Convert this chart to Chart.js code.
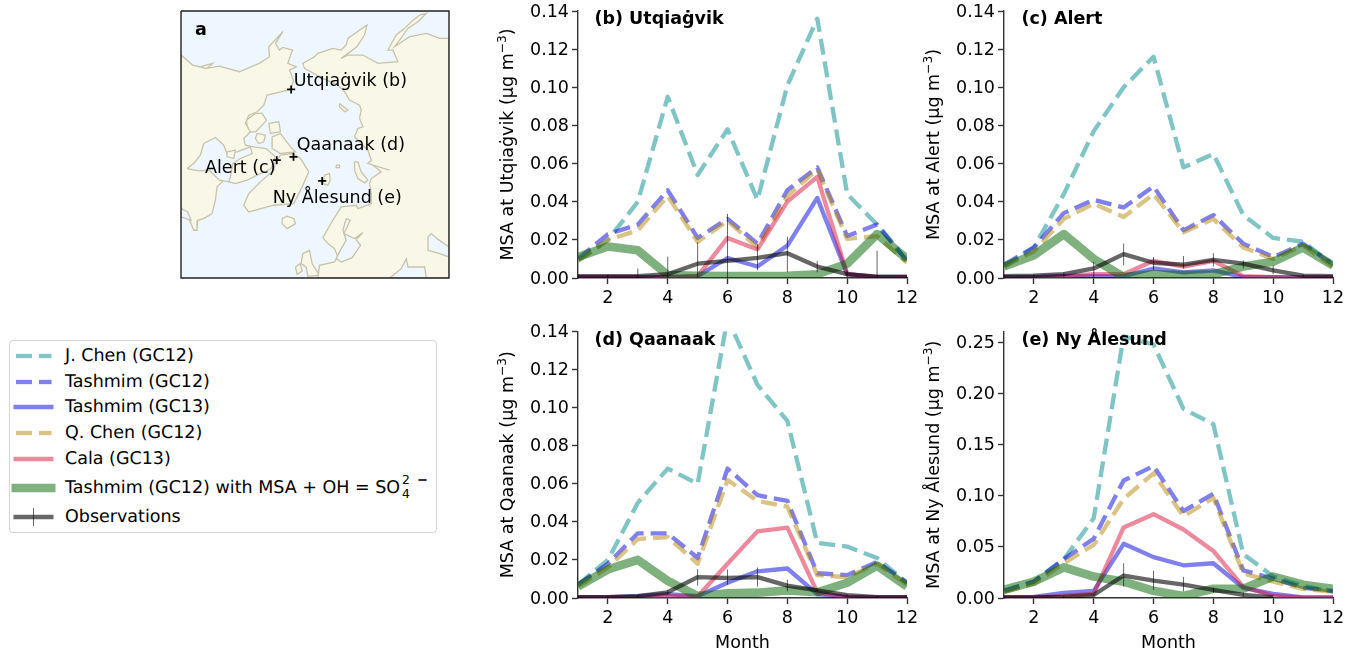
<!DOCTYPE html>
<html lang="en">
<head>
<meta charset="UTF-8">
<title>MSA at Arctic sites</title>
<script src="https://cdn.jsdelivr.net/npm/chart.js"></script>
<style>
  html, body { margin: 0; padding: 0; background: #fff; overflow: hidden; }
  body { width: 1346px; height: 650px; position: relative; font-family: "DejaVu Sans", sans-serif; color: #000; }
  canvas { position: absolute; display: block; }
  #legend { position: absolute; left: 9px; top: 340px; width: 426px; height: 191px; border: 1.4px solid #d4d4d4; border-radius: 4px; background: #fff; }
  .row { position: absolute; left: 0; height: 24px; line-height: 24px; font-size: 17.5px; white-space: nowrap; text-rendering: geometricPrecision; }
  .row svg { position: absolute; left: 0; top: 0; }
  .row span.t { position: absolute; left: 55px; top: 0; }
  .stack { position: relative; display: inline-block; width: 12px; height: 0; font-size: 12.3px; }
  .stack i { position: absolute; left: 2px; font-style: normal; line-height: 12px; }
</style>
</head>
<body>
<canvas id="mapChart" width="290" height="290" style="left:170px;top:0"></canvas>
<canvas id="chartB" width="430" height="320" style="left:490px;top:0"></canvas>
<canvas id="chartC" width="430" height="320" style="left:916px;top:0"></canvas>
<canvas id="chartD" width="430" height="330" style="left:490px;top:320px"></canvas>
<canvas id="chartE" width="430" height="330" style="left:916px;top:320px"></canvas>
<div id="legend"></div>
<script>
const months = [1, 2, 3, 4, 5, 6, 7, 8, 9, 10, 11, 12];
const monthTicks = [2, 4, 6, 8, 10, 12];
const tickLabels = ['0.00', '0.02', '0.04', '0.06', '0.08', '0.10', '0.12', '0.14'];
const tickLabelsE = ['0.00', '0.05', '0.10', '0.15', '0.20', '0.25'];

// (b) Utqiagvik
const jChenB = [0.009, 0.020, 0.040, 0.095, 0.054, 0.078, 0.041, 0.101, 0.136, 0.044, 0.028, 0.009];
const tash12B = [0.010, 0.023, 0.028, 0.046, 0.021, 0.031, 0.018, 0.046, 0.058, 0.022, 0.028, 0.009];
const tash13B = [0.0005, 0.0005, 0.0005, 0.0005, 0.001, 0.0105, 0.006, 0.017, 0.042, 0.002, 0.0005, 0.0005];
const qChenB = [0.009, 0.020, 0.025, 0.043, 0.019, 0.030, 0.016, 0.043, 0.057, 0.0205, 0.022, 0.008];
const calaB = [0.0005, 0.0005, 0.0005, 0.0005, 0.001, 0.021, 0.015, 0.040, 0.053, 0.002, 0.0005, 0.0005];
const oxB = [0.011, 0.0165, 0.0145, 0.0015, 0.0012, 0.001, 0.001, 0.0012, 0.002, 0.0075, 0.023, 0.010];
const obsB = [0.001, 0.001, 0.001, 0.002, 0.0075, 0.009, 0.0105, 0.013, 0.006, 0.002, 0.0007, 0.0007];
const obsLoB = [0, 0, 0, 0, 0, 0, 0.004, 0.003, 0.003, 0, 0, 0];
const obsHiB = [0.002, 0.002, 0.005, 0.0112, 0.0187, 0.0336, 0.018, 0.0217, 0.009, 0.004, 0.0143, 0.001];

// (c) Alert
const jChenC = [0.006, 0.016, 0.044, 0.077, 0.100, 0.116, 0.058, 0.065, 0.033, 0.021, 0.019, 0.007];
const tash12C = [0.007, 0.016, 0.034, 0.041, 0.037, 0.048, 0.025, 0.033, 0.018, 0.011, 0.018, 0.007];
const tash13C = [0.0005, 0.0005, 0.001, 0.001, 0.001, 0.005, 0.003, 0.004, 0.0005, 0.0005, 0.0003, 0.0003];
const qChenC = [0.006, 0.014, 0.031, 0.039, 0.032, 0.044, 0.024, 0.031, 0.016, 0.010, 0.017, 0.006];
const calaC = [0.0005, 0.0005, 0.001, 0.002, 0.002, 0.009, 0.006, 0.009, 0.001, 0.0005, 0.0003, 0.0003];
const oxC = [0.006, 0.012, 0.023, 0.010, 0.0005, 0.002, 0.0015, 0.002, 0.006, 0.0085, 0.016, 0.0065];
const obsC = [0.001, 0.0012, 0.002, 0.005, 0.0125, 0.008, 0.007, 0.0095, 0.0075, 0.004, 0.0012, 0.001];
const obsLoC = [0.0005, 0, 0.0005, 0, 0.0066, 0.004, 0.005, 0.006, 0.005, 0.002, 0.0005, 0.0005];
const obsHiC = [0.0015, 0.002, 0.003, 0.0085, 0.018, 0.011, 0.0115, 0.013, 0.0092, 0.0065, 0.002, 0.0012];

// (d) Qaanaak
const jChenD = [0.007, 0.020, 0.050, 0.068, 0.060, 0.147, 0.112, 0.093, 0.029, 0.027, 0.021, 0.008];
const tash12D = [0.007, 0.018, 0.034, 0.034, 0.021, 0.068, 0.054, 0.051, 0.013, 0.012, 0.019, 0.008];
const tash13D = [0.0003, 0.0004, 0.001, 0.002, 0.001, 0.008, 0.014, 0.0155, 0.002, 0.0005, 0.0003, 0.0003];
const qChenD = [0.006, 0.016, 0.031, 0.032, 0.018, 0.062, 0.051, 0.048, 0.012, 0.011, 0.018, 0.007];
const calaD = [0.0003, 0.0003, 0.0005, 0.001, 0.0008, 0.018, 0.035, 0.037, 0.003, 0.0005, 0.0002, 0.0002];
const oxD = [0.006, 0.015, 0.020, 0.009, 0.001, 0.0025, 0.0028, 0.004, 0.003, 0.008, 0.017, 0.006];
const obsD = [0.0005, 0.0005, 0.001, 0.003, 0.011, 0.0105, 0.011, 0.0065, 0.004, 0.0015, 0.0005, 0.0004];
const obsLoD = [0, 0, 0, 0.002, 0.0065, 0.007, 0.006, 0.0035, 0.0035, 0.001, 0, 0];
const obsHiD = [0.001, 0.001, 0.0015, 0.004, 0.0152, 0.015, 0.016, 0.0096, 0.0045, 0.002, 0.001, 0.001];

// (e) Ny Alesund
const jChenE = [0.007, 0.016, 0.038, 0.078, 0.256, 0.248, 0.185, 0.170, 0.043, 0.021, 0.012, 0.006];
const tash12E = [0.007, 0.016, 0.038, 0.058, 0.115, 0.129, 0.085, 0.102, 0.027, 0.019, 0.010, 0.007];
const tash13E = [0.0005, 0.001, 0.005, 0.007, 0.053, 0.040, 0.032, 0.034, 0.010, 0.004, 0.0005, 0.0005];
const qChenE = [0.006, 0.014, 0.034, 0.052, 0.097, 0.122, 0.080, 0.098, 0.024, 0.016, 0.009, 0.006];
const calaE = [0.0005, 0.0005, 0.002, 0.004, 0.069, 0.082, 0.067, 0.046, 0.011, 0.002, 0.0003, 0.0003];
const oxE = [0.008, 0.016, 0.030, 0.021, 0.016, 0.007, 0.002, 0.009, 0.009, 0.021, 0.013, 0.009];
const obsE = [0.0005, 0.0005, 0.001, 0.003, 0.022, 0.017, 0.013, 0.008, 0.003, 0.0005, null, null];
const obsLoE = [0, 0, 0, 0.002, 0.011, 0.008, 0.0065, 0.005, 0.0016, 0, null, null];
const obsHiE = [0.001, 0.001, 0.002, 0.004, 0.034, 0.0266, 0.0205, 0.010, 0.005, 0.001, null, null];

const seriesNames = ['J. Chen (GC12)', 'Tashmim (GC12)', 'Tashmim (GC13)', 'Q. Chen (GC12)', 'Cala (GC13)', 'Tashmim (GC12) with MSA + OH = SO', 'Observations'];
const seriesColors = ['rgba(0,139,139,0.5)', 'rgba(0,0,221,0.5)', 'rgba(0,0,221,0.5)', 'rgba(184,134,11,0.5)', 'rgba(220,20,60,0.5)', 'rgba(0,100,0,0.5)', 'rgba(0,0,0,0.6)'];
const seriesWidths = [4.3, 4.3, 4.3, 4.3, 4.3, 8.6, 4.3];
const seriesDashed = [true, true, false, true, false, false, false];

// coastlines, traced in map units
const northAmerica = [[35,165],[70,195],[110,205],[150,198],[210,215],[270,190],[300,170],[298,140],[340,95],[318,130],[330,150],[340,142],[370,150],[365,160],[355,190],[380,200],[360,210],[372,240],[365,268],[293,285],[283,315],[263,335],[238,345],[228,370],[243,395],[223,415],[228,435],[253,440],[290,445],[318,470],[305,505],[263,525],[233,540],[198,550],[180,545],[168,535],[143,560],[138,600],[128,640],[103,655],[85,660],[83,690],[73,690],[63,665],[58,655],[35,620]];
const hudsonBay = [[53,505],[73,490],[93,465],[103,430],[138,412],[163,435],[173,460],[203,455],[243,440],[248,460],[213,475],[190,490],[183,530],[178,545],[150,540],[120,510],[90,512]];
const leftBay = [[35,625],[55,635],[65,660],[35,650]];
const bayIsland = [[173,455],[198,450],[193,475],[173,470]];
const aleutIsland = [[75,205],[130,190],[110,208]];
const greenland = [[318,485],[333,465],[368,460],[393,475],[418,515],[398,560],[373,610],[313,615],[238,635],[223,615],[238,580],[273,545],[313,510]];
const banksIsland = [[231,360],[258,340],[278,340],[291,360],[278,375],[258,395],[238,395],[233,375]];
const melvilleIsland = [[298,370],[328,365],[333,395],[303,400]];
const ellesmereIsland = [[308,410],[333,400],[363,440],[378,455],[333,460],[308,445]];
const victoriaIsland = [[263,400],[288,405],[283,425],[268,430],[258,415]];
const eurasia = [[838,115],[810,115],[770,100],[720,110],[675,140],[690,120],[715,85],[745,65],[770,40],[750,45],[725,65],[705,85],[680,105],[655,150],[670,150],[685,185],[625,190],[580,165],[535,165],[515,175],[562,140],[585,105],[592,75],[535,115],[530,135],[515,150],[490,145],[445,160],[435,170],[400,190],[405,205],[460,235],[505,255],[525,275],[540,300],[570,315],[575,330],[570,355],[580,380],[565,385],[555,410],[575,430],[595,450],[605,480],[595,490],[660,510],[610,495],[635,515],[605,535],[600,550],[605,580],[605,610],[565,625],[560,615],[515,620],[490,660],[460,712],[475,730],[495,745],[505,770],[495,785],[450,795],[445,833],[838,833]];
const baltic = [[530,655],[542,660],[523,700],[555,715],[580,697],[560,718],[573,735],[548,772],[515,785],[500,775],[515,745],[530,720],[520,690]];
const blackSea = [[660,833],[695,805],[710,775],[715,800],[765,800],[770,833]];
const caspian = [[775,710],[785,700],[802,715],[838,740],[838,770],[810,760],[775,750]];
const novayaZemlya = [[555,485],[565,485],[575,515],[595,540],[585,548],[565,535],[555,510]];
const newSiberia = [[510,310],[535,330],[525,335],[510,320]];
const svalbard = [[465,525],[480,520],[482,540],[475,555],[460,550]];
const franzJosef = [[500,495],[510,495],[510,502],[500,502]];
const iceland = [[338,655],[353,648],[373,655],[378,670],[353,685],[338,670]];
const britain = [[400,760],[420,750],[428,790],[450,825],[415,828],[410,800],[395,790]];
const ireland = [[378,800],[392,790],[398,812],[383,822]];
const landShapes = [northAmerica, greenland, banksIsland, melvilleIsland, ellesmereIsland, victoriaIsland, aleutIsland, eurasia, novayaZemlya, newSiberia, svalbard, franzJosef, iceland, britain, ireland];
const waterShapes = [hudsonBay, leftBay, baltic, blackSea, caspian];
const stationNames = ['Utqiaġvik (b)', 'Qaanaak (d)', 'Alert (c)', 'Ny Ålesund (e)'];
const stationPoints = [[365, 268], [372, 470], [322, 480], [458, 542]];
const stationLabelPoints = [[373, 240], [382, 432], [107, 503], [310, 592]];
const mapFrame = [[35, 33], [838, 33], [838, 833], [35, 833], [35, 33]];

const fontFamily = '"DejaVu Sans", sans-serif';
const fontSize = 17.5;
const spineColor = '#333';
Chart.defaults.font.family = fontFamily;
Chart.defaults.font.size = fontSize;
Chart.defaults.color = '#000';

const panelLabel = {
  id: 'panelLabel',
  afterDraw(chart, args, opts) {
    const ctx = chart.ctx;
    ctx.save();
    ctx.font = 'bold ' + fontSize + 'px ' + fontFamily;
    ctx.fillStyle = '#000';
    ctx.textBaseline = 'middle';
    ctx.fillText(opts.text, chart.chartArea.left + opts.dx, chart.chartArea.top + opts.dy);
    ctx.restore();
  }
};

// y axis title with a real superscript, the built in title can't do that
const yTitle = {
  id: 'yTitle',
  afterDraw(chart, args, opts) {
    const ctx = chart.ctx, area = chart.chartArea;
    const main = fontSize + 'px ' + fontFamily, small = (fontSize * 0.7) + 'px ' + fontFamily;
    ctx.font = main;
    const w1 = ctx.measureText(opts.text).width, w3 = ctx.measureText(')').width;
    ctx.font = small;
    const w2 = ctx.measureText('−3').width;
    ctx.save();
    ctx.translate(area.left - 65, (area.top + area.bottom) / 2);
    ctx.rotate(-Math.PI / 2);
    ctx.fillStyle = '#000';
    ctx.textBaseline = 'alphabetic';
    const x0 = -(w1 + w2 + w3) / 2;
    ctx.font = main;
    ctx.fillText(opts.text, x0, 0);
    ctx.fillText(')', x0 + w1 + w2, 0);
    ctx.font = small;
    ctx.fillText('−3', x0 + w1, -7);
    ctx.restore();
  }
};

function fixScale(size, prop) {
  return s => {
    s[prop] = size;
    s.paddingTop = s.paddingBottom = s.paddingLeft = s.paddingRight = 0;
  };
}

function lineSet(i, values) {
  return {
    label: seriesNames[i],
    data: months.map((m, k) => ({ x: m, y: values[k] })),
    borderColor: seriesColors[i],
    borderWidth: seriesWidths[i],
    borderDash: seriesDashed[i] ? [16, 7] : [],
    borderJoinStyle: 'round',
    borderCapStyle: 'butt',
    pointRadius: 0,
    tension: 0,
    fill: false,
    clip: 0,
    spanGaps: false,
    order: 20 - i
  };
}

function errorSet(lo, hi) {
  const pts = [];
  months.forEach((m, k) => {
    if (hi[k] === null) return;
    pts.push({ x: m, y: lo[k] }, { x: m, y: hi[k] }, { x: m, y: null });
  });
  return {
    label: 'Observation range',
    data: pts,
    borderColor: 'rgba(0,0,0,0.6)',
    borderWidth: 1,
    pointRadius: 0,
    tension: 0,
    fill: false,
    clip: 0,
    spanGaps: false,
    order: 1
  };
}

function makePanel(id, o) {
  const series = [o.jChen, o.tash12, o.tash13, o.qChen, o.cala, o.ox, o.obs];
  new Chart(document.getElementById(id), {
    type: 'line',
    data: { datasets: series.map((v, i) => lineSet(i, v)).concat(errorSet(o.lo, o.hi)) },
    plugins: [panelLabel, yTitle],
    options: {
      responsive: false,
      animation: false,
      layout: { padding: { top: o.top, left: 0, right: o.right, bottom: 0 } },
      plugins: {
        legend: { display: false },
        tooltip: { enabled: false },
        panelLabel: { text: o.panel, dx: o.labelX, dy: 8.5 },
        yTitle: { text: o.yTitle }
      },
      scales: {
        x: {
          type: 'linear',
          min: 1,
          max: 12,
          afterBuildTicks: s => { s.ticks = monthTicks.map(v => ({ value: v })); },
          afterFit: fixScale(o.xHeight, 'height'),
          ticks: { maxRotation: 0, padding: 4, autoSkip: false, color: '#000' },
          grid: { display: true, drawOnChartArea: false, drawTicks: true, tickLength: 6, tickWidth: 1.4, tickColor: spineColor },
          border: { display: true, color: spineColor, width: 1.4 },
          title: { display: o.showMonth, text: 'Month', padding: { top: 0, bottom: -4 }, color: '#000' }
        },
        y: {
          min: 0,
          max: o.yMax,
          afterBuildTicks: s => { s.ticks = o.labels.map(v => ({ value: Number(v) })); },
          afterFit: fixScale(o.yWidth, 'width'),
          ticks: { padding: 3, autoSkip: false, color: '#000', labelOffset: 1, callback: v => v.toFixed(2) },
          grid: { display: true, drawOnChartArea: false, drawTicks: true, tickLength: 6, tickWidth: 1.4, tickColor: spineColor },
          border: { display: true, color: spineColor, width: 1.4 }
        }
      }
    }
  });
}

makePanel('chartB', { jChen: jChenB, tash12: tash12B, tash13: tash13B, qChen: qChenB, cala: calaB, ox: oxB, obs: obsB, lo: obsLoB, hi: obsHiB,
  panel: '(b) Utqiaġvik', labelX: 16.5, yTitle: 'MSA at Utqiaġvik (μg m', yMax: 0.14, labels: tickLabels, top: 11, right: 13, xHeight: 42, yWidth: 88, showMonth: false });
makePanel('chartC', { jChen: jChenC, tash12: tash12C, tash13: tash13C, qChen: qChenC, cala: calaC, ox: oxC, obs: obsC, lo: obsLoC, hi: obsHiC,
  panel: '(c) Alert', labelX: 17.5, yTitle: 'MSA at Alert (μg m', yMax: 0.14, labels: tickLabels, top: 11, right: 13, xHeight: 42, yWidth: 88, showMonth: false });
makePanel('chartD', { jChen: jChenD, tash12: tash12D, tash13: tash13D, qChen: qChenD, cala: calaD, ox: oxD, obs: obsD, lo: obsLoD, hi: obsHiD,
  panel: '(d) Qaanaak', labelX: 16.5, yTitle: 'MSA at Qaanaak (μg m', yMax: 0.14, labels: tickLabels, top: 11.5, right: 13, xHeight: 52, yWidth: 88, showMonth: true });
makePanel('chartE', { jChen: jChenE, tash12: tash12E, tash13: tash13E, qChen: qChenE, cala: calaE, ox: oxE, obs: obsE, lo: obsLoE, hi: obsHiE,
  panel: '(e) Ny Ålesund', labelX: 17.5, yTitle: 'MSA at Ny Ålesund (μg m', yMax: 0.2607, labels: tickLabelsE, top: 11.5, right: 13, xHeight: 52, yWidth: 88, showMonth: true });

// map panel
const mapText = {
  id: 'mapText',
  afterDraw(chart) {
    const ctx = chart.ctx, xs = chart.scales.x, ys = chart.scales.y;
    ctx.save();
    ctx.textBaseline = 'middle';
    ctx.fillStyle = '#000';
    ctx.font = fontSize + 'px ' + fontFamily;
    stationNames.forEach((n, i) => {
      ctx.fillText(n, xs.getPixelForValue(stationLabelPoints[i][0]), ys.getPixelForValue(stationLabelPoints[i][1]) + 1);
    });
    ctx.font = 'bold ' + fontSize + 'px ' + fontFamily;
    ctx.fillText('a', xs.getPixelForValue(77), ys.getPixelForValue(90));
    ctx.restore();
  }
};

// Filler clips to the x range between first and last point, so closed shapes come out empty.
// Fill them here from the points the line controller already placed.
const shapeFill = {
  id: 'shapeFill',
  beforeDatasetDraw(chart, args) {
    const ds = chart.data.datasets[args.index];
    if (!ds.shapeColor) return;
    const ctx = chart.ctx, pts = args.meta.data;
    ctx.save();
    ctx.beginPath();
    pts.forEach((p, i) => (i ? ctx.lineTo(p.x, p.y) : ctx.moveTo(p.x, p.y)));
    ctx.closePath();
    ctx.fillStyle = ds.shapeColor;
    ctx.fill();
    ctx.restore();
  }
};

function shapeSet(shape, fillColor, order) {
  return {
    data: shape.concat([shape[0]]).map(p => ({ x: p[0], y: p[1] })),
    borderColor: '#c8c3a8',
    borderWidth: 1.3,
    shapeColor: fillColor,
    fill: false,
    pointRadius: 0,
    tension: 0,
    order: order
  };
}

const oceanColor = '#eef6ff', landColor = '#f9f8e8';
const mapSets = [];
mapSets.push({
  data: stationPoints.map(p => ({ x: p[0], y: p[1] })),
  showLine: false, pointStyle: 'cross', pointRadius: 4, pointBorderColor: '#000', pointBorderWidth: 1.7, order: 1
});
mapSets.push({
  data: mapFrame.map(p => ({ x: p[0], y: p[1] })),
  borderColor: '#222', borderWidth: 1.4, pointRadius: 0, tension: 0, fill: false, clip: false, order: 2
});
mapSets.push(shapeSet(bayIsland, landColor, 2.5));
waterShapes.forEach(s => mapSets.push(shapeSet(s, oceanColor, 3)));
landShapes.forEach(s => mapSets.push(shapeSet(s, landColor, 4)));
mapSets.push({
  data: mapFrame.map(p => ({ x: p[0], y: p[1] })),
  borderWidth: 0, shapeColor: oceanColor, fill: false, pointRadius: 0, tension: 0, order: 5
});

new Chart(document.getElementById('mapChart'), {
  type: 'line',
  data: { datasets: mapSets },
  plugins: [shapeFill, mapText],
  options: {
    responsive: false,
    animation: false,
    layout: { padding: { left: 11, top: 11, right: 11, bottom: 12 } },
    plugins: { legend: { display: false }, tooltip: { enabled: false } },
    scales: {
      x: { type: 'linear', min: 35, max: 838, display: false },
      y: { min: 33, max: 833, reverse: true, display: false }
    }
  }
});

// legend, built from the same series tables
const legendRows = [15, 41, 66, 92, 118, 147, 176];
const legendEl = document.getElementById('legend');
seriesNames.forEach((name, i) => {
  const row = document.createElement('div');
  row.className = 'row';
  row.style.top = (legendRows[i] - 12) + 'px';
  let swatch;
  const c = seriesColors[i], w = seriesWidths[i];
  if (seriesDashed[i]) {
    swatch = `<line x1="6" y1="12" x2="22" y2="12" stroke="${c}" stroke-width="${w}"/><line x1="29" y1="12" x2="41.5" y2="12" stroke="${c}" stroke-width="${w}"/>`;
  } else if (i === 5) {
    swatch = `<line x1="1.5" y1="12" x2="45.5" y2="12" stroke="${c}" stroke-width="${w}"/>`;
  } else {
    swatch = `<line x1="3.5" y1="12" x2="43.5" y2="12" stroke="${c}" stroke-width="${w}"/>`;
  }
  if (i === 6) swatch += `<line x1="23.5" y1="3" x2="23.5" y2="21" stroke="${c}" stroke-width="1"/>`;
  let text = name;
  if (i === 5) text += '<span class="stack"><i style="top:-19px">2</i><i style="top:-5px">4</i></span><span style="position:absolute;left:352px;top:-7px;font-weight:bold;font-size:13px">−</span>';
  row.innerHTML = `<svg width="50" height="24">${swatch}</svg><span class="t">${text}</span>`;
  legendEl.appendChild(row);
});
</script>
</body>
</html>
